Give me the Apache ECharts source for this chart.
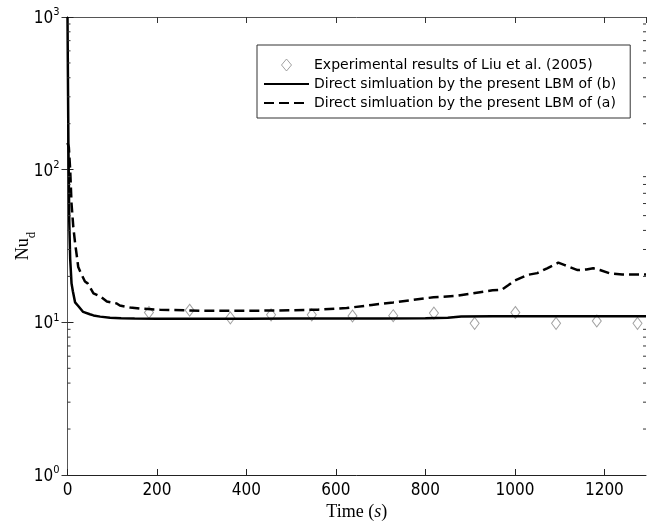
<!DOCTYPE html>
<html>
<head>
<meta charset="utf-8">
<script src="https://cdn.jsdelivr.net/npm/echarts@6/dist/echarts.min.js"></script>
<style>
html,body{margin:0;padding:0;background:#fff;}
#c{width:647px;height:525px;}
</style>
</head>
<body>
<div id="c"></div>
<script>
// ---- data ----
const timeB = [0, 2, 4, 6, 9, 12, 17, 24, 35, 50, 58, 73, 95, 120, 150, 200, 300, 400, 500, 600, 700, 800, 850, 880, 950, 1000, 1100, 1200, 1293];
const nuB   = [1000, 150, 45, 26, 18, 16, 13.5, 12.8, 11.7, 11.3, 11.1, 10.9, 10.7, 10.65, 10.6, 10.55, 10.55, 10.55, 10.6, 10.6, 10.6, 10.65, 10.7, 10.9, 10.95, 10.95, 10.95, 10.95, 10.95];

const timeA = [0, 3, 6, 9, 13, 17, 21, 24, 30, 39, 45, 58, 73, 88, 110, 117, 140, 162, 207, 260, 300, 400, 500, 560, 624, 680, 728, 770, 818, 870, 907, 950, 970, 985, 1000, 1030, 1050, 1072, 1097, 1110, 1123, 1140, 1160, 1175, 1190, 1213, 1240, 1293];
const nuA   = [150, 140, 100, 60, 42, 33, 27, 23, 21, 18.5, 18, 15.5, 14.8, 13.7, 13.3, 12.9, 12.5, 12.3, 12.1, 12.0, 11.9, 11.9, 12.0, 12.1, 12.4, 13.0, 13.5, 14.0, 14.6, 14.9, 15.5, 16.2, 16.3, 17.5, 18.8, 20.5, 21, 22.6, 24.6, 23.8, 23.0, 22.0, 22.2, 22.6, 22, 20.9, 20.6, 20.6];

const timeExp = [182, 273, 364, 455, 546, 637, 728, 819, 910, 1001, 1092, 1183, 1274];
const nuExp   = [11.6, 12.0, 10.7, 11.2, 11.2, 11.0, 11.05, 11.5, 9.85, 11.6, 9.85, 10.2, 9.85];

const seriesNames = [
  'Experimental results of Liu et al. (2005)',
  'Direct simluation by the present LBM of (b)',
  'Direct simluation by the present LBM of (a)'
];
const xTicks = [0, 200, 400, 600, 800, 1000, 1200];
const yMinorTicks = [2, 3, 4, 5, 6, 7, 8, 9, 20, 30, 40, 50, 60, 70, 80, 90, 200, 300, 400, 500, 600, 700, 800, 900];

const X_MAX = 1293;
const zip = (a, b) => a.map((v, i) => [v, b[i]]);

const numFont = "'Liberation Sans Narrow','Arial Narrow','DejaVu Sans Condensed','Liberation Sans',sans-serif";
const serif = "'Liberation Serif','Times New Roman',serif";

const chart = echarts.init(document.getElementById('c'), null, {renderer: 'canvas'});

const option = {
  animation: false,
  backgroundColor: '#fff',
  grid: {left: 67.5, right: 1, top: 17, bottom: 50, containLabel: false, outerBoundsMode: 'none'},
  legend: {
    orient: 'vertical',
    left: 257, top: 45,
    padding: [13, 14, 8, 6],
    itemWidth: 45, itemHeight: 12, itemGap: 5,
    borderColor: '#333', borderWidth: 1,
    backgroundColor: '#fff',
    symbolKeepAspect: true,
    textStyle: {fontFamily: "'DejaVu Sans',sans-serif", fontSize: 14, color: '#000', lineHeight: 14},
    data: [
      {name: seriesNames[0], icon: 'path://M5,0L10,6L5,12L0,6Z',
       itemStyle: {color: 'rgba(255,255,255,0)', borderColor: '#8a8a8a', borderWidth: 1}},
      {name: seriesNames[1], itemStyle: {opacity: 0}},
      {name: seriesNames[2], itemStyle: {opacity: 0}}
    ]
  },
  xAxis: [{
    type: 'value', min: 0, max: X_MAX, interval: 200,
    name: '{t|Time (}{i|s}{t|)}',
    nameLocation: 'middle', nameGap: 28, nameMoveOverlap: false,
    nameTextStyle: {rich: {
      t: {fontFamily: serif, fontSize: 18, color: '#000'},
      i: {fontFamily: serif, fontSize: 18, fontStyle: 'italic', color: '#000'}
    }},
    axisLine: {show: true, lineStyle: {color: '#222', width: 1}},
    axisTick: {show: true, inside: true, length: 6, lineStyle: {color: '#222'}},
    axisLabel: {
      margin: 7, color: '#000', fontFamily: numFont, fontSize: 17,
      formatter: v => (xTicks.indexOf(v) >= 0 ? String(v) : ''),
      showMaxLabel: false
    },
    splitLine: {show: false}
  }, {
    type: 'value', min: 0, max: X_MAX, interval: 200, position: 'top',
    axisLine: {show: true, lineStyle: {color: '#555', width: 1}},
    axisTick: {show: true, inside: true, length: 6, lineStyle: {color: '#333'}},
    axisLabel: {show: false},
    splitLine: {show: false}
  }],
  yAxis: [{
    type: 'log', logBase: 10, min: 1, max: 1000,
    name: '{n|Nu}{d|d}',
    nameLocation: 'middle', nameGap: 29, nameRotate: 90, nameMoveOverlap: false,
    nameTextStyle: {rich: {
      n: {fontFamily: serif, fontSize: 18, color: '#000', lineHeight: 24, verticalAlign: 'top'},
      d: {fontFamily: serif, fontSize: 13, color: '#000', lineHeight: 24, verticalAlign: 'bottom'}
    }},
    axisLine: {show: true, lineStyle: {color: '#222', width: 1}},
    axisTick: {show: true, inside: true, length: 6, lineStyle: {color: '#222'}},
    axisLabel: {
      margin: 8, color: '#000',
      formatter: v => '{b|10}{s|' + Math.round(Math.log10(v)) + '}',
      rich: {
        b: {fontFamily: numFont, fontSize: 17, lineHeight: 20, verticalAlign: 'bottom', color: '#000'},
        s: {fontFamily: numFont, fontSize: 11, lineHeight: 20, verticalAlign: 'top', color: '#000'}
      }
    },
    splitLine: {show: false}
  }, {
    type: 'log', logBase: 10, min: 1, max: 1000, position: 'right',
    axisLine: {show: true, lineStyle: {color: '#555', width: 1}},
    axisTick: {show: true, inside: true, length: 6, lineStyle: {color: '#333'}},
    axisLabel: {show: false},
    splitLine: {show: false}
  }],
  series: [{
    name: seriesNames[0],
    type: 'scatter',
    data: zip(timeExp, nuExp),
    symbol: 'diamond', symbolSize: [9, 12],
    itemStyle: {color: 'rgba(255,255,255,0)', borderColor: '#8a8a8a', borderWidth: 1},
    z: 3
  }, {
    name: seriesNames[1],
    type: 'line',
    data: zip(timeB, nuB),
    symbol: 'none',
    lineStyle: {color: '#000', width: 2.5, type: 'solid'},
    itemStyle: {color: '#000'},
    z: 4
  }, {
    name: seriesNames[2],
    type: 'line',
    data: zip(timeA, nuA),
    symbol: 'none',
    lineStyle: {color: '#000', width: 2.5, type: [10, 5]},
    itemStyle: {color: '#000'},
    z: 4
  }, {
    name: 'minorTicks',
    type: 'custom',
    data: yMinorTicks.map(v => [0, v]),
    silent: true,
    clip: false,
    renderItem: (params, api) => {
      const v = api.value(1);
      const pl = api.coord([0, v]);
      const pr = api.coord([X_MAX, v]);
      const st = {stroke: '#333', lineWidth: 1};
      return {type: 'group', children: [
        {type: 'line', shape: {x1: pl[0], y1: pl[1], x2: pl[0] + 3, y2: pl[1]}, style: st},
        {type: 'line', shape: {x1: pr[0], y1: pr[1], x2: pr[0] - 3, y2: pr[1]}, style: st}
      ]};
    },
    z: 5
  }]
};
chart.setOption(option);
</script>
</body>
</html>
